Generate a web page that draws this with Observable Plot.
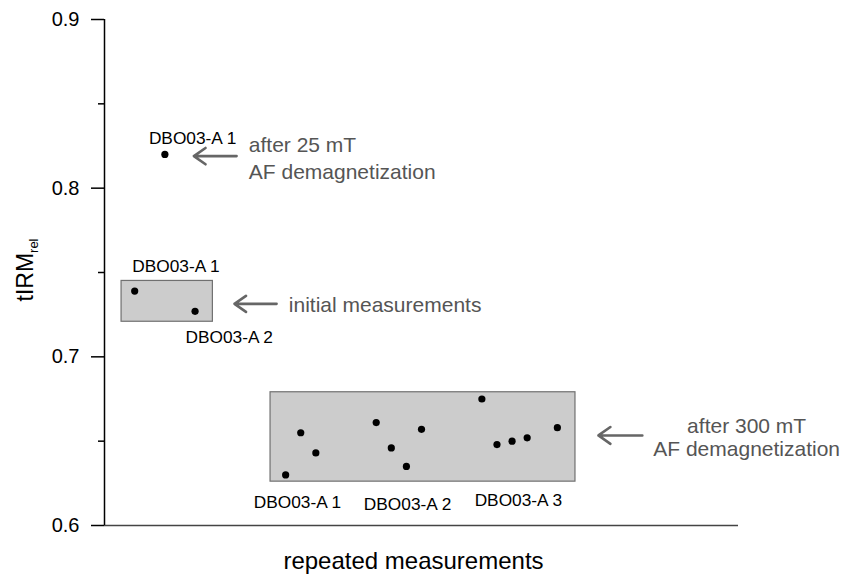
<!DOCTYPE html>
<html>
<head>
<meta charset="utf-8">
<script src="https://cdn.jsdelivr.net/npm/d3@7"></script>
<script src="https://cdn.jsdelivr.net/npm/@observablehq/plot@0.6"></script>
<style>
  html, body { margin: 0; padding: 0; background: #fff; }
</style>
</head>
<body>
<div id="chart"></div>
<script>
// ---- data ----
// measurement order (x, no ticks) and relative tIRM values
const initialIndex = [2, 6];
const initialValues = [0.739, 0.727];
const af25Index = [4];
const af25Values = [0.820];
const af300Index = [12, 13, 14, 18, 19, 20, 21, 25, 26, 27, 28, 30];
const af300Values = [0.630, 0.655, 0.643, 0.661, 0.646, 0.635, 0.657, 0.675, 0.648, 0.650, 0.652, 0.658];

const yTicks = [0.6, 0.7, 0.8, 0.9];
const yMinorTicks = [0.65, 0.75, 0.85];

// grouping boxes (data space)
const boxX1 = [1.13, 11.0];
const boxX2 = [7.18, 31.2];
const boxY1 = [0.7208, 0.626];
const boxY2 = [0.7450, 0.679];

// sample labels (data-space anchors)
const sampleLabelText = ["DBO03-A 1", "DBO03-A 1", "DBO03-A 2", "DBO03-A 1", "DBO03-A 2", "DBO03-A 3"];
const sampleLabelX = [2.94, 1.84, 5.37, 9.89, 17.18, 24.52];
const sampleLabelY = [0.8295, 0.7538, 0.7115, 0.6137, 0.6127, 0.6146];

// annotations
const noteText = ["after 25 mT", "AF demagnetization", "initial measurements"];
const noteX = [9.56, 9.56, 12.21];
const noteY = [0.8255, 0.8095, 0.7307];
const note300Text = ["after 300 mT", "AF demagnetization"];
const note300X = [42.54, 42.54];
const note300Y = [0.6591, 0.6453];

// arrows
const arrowX1 = [8.75, 11.40, 35.63];
const arrowX2 = [5.92, 8.61, 32.72];
const arrowY = [0.8190, 0.7314, 0.6534];

const xTitle = "repeated measurements";
const yTitleMain = "tIRM";
const yTitleSub = "rel";

// ---- build tables ----
const points = [
  ...initialIndex.map((x, i) => ({x, y: initialValues[i]})),
  ...af25Index.map((x, i) => ({x, y: af25Values[i]})),
  ...af300Index.map((x, i) => ({x, y: af300Values[i]}))
];
const boxes = boxX1.map((d, i) => ({x1: d, x2: boxX2[i], y1: boxY1[i], y2: boxY2[i]}));
const sampleLabels = sampleLabelText.map((t, i) => ({t, x: sampleLabelX[i], y: sampleLabelY[i]}));
const notes = noteText.map((t, i) => ({t, x: noteX[i], y: noteY[i]}));
const notes300 = note300Text.map((t, i) => ({t, x: note300X[i], y: note300Y[i]}));
const arrows = arrowX1.map((d, i) => ({x1: d, x2: arrowX2[i], y: arrowY[i]}));

const FONT = "'Liberation Sans', Arial, Helvetica, sans-serif";

function yTitleMark(index, scales, values, dimensions) {
  const g = d3.create("svg:g");
  const t = g.append("text")
    .attr("transform", `translate(33,270) rotate(-90)`)
    .attr("text-anchor", "middle")
    .attr("font-size", 23)
    .attr("fill", "#000");
  t.append("tspan").text(yTitleMain);
  t.append("tspan").attr("font-size", 13).attr("dy", 5).text(yTitleSub);
  return g.node();
}

const chart = Plot.plot({
  width: 843,
  height: 580,
  marginLeft: 104,
  marginRight: 105,
  marginTop: 19,
  marginBottom: 55,
  style: {fontFamily: FONT, background: "#fff", color: "#000"},
  x: {domain: [0, 42], axis: null},
  y: {domain: [0.6, 0.9], axis: null},
  marks: [
    Plot.rect(boxes, {x1: "x1", x2: "x2", y1: "y1", y2: "y2", fill: "#cccccc", stroke: "#707070", strokeWidth: 1.2}),
    Plot.ruleY([0.6], {stroke: "#444", strokeWidth: 1.6}),
    Plot.ruleX([0], {y1: 0.6, y2: 0.9, stroke: "#000", strokeWidth: 1.5}),
    Plot.axisY(yTicks, {tickSize: 13, tickPadding: 12, fontSize: 20, tickFormat: d3.format(".1f"), label: null, stroke: "#000", strokeWidth: 1.5, fill: "#000"}),
    Plot.axisY(yMinorTicks, {tickSize: 6, tickFormat: () => "", label: null, stroke: "#000", strokeWidth: 1.5}),
    Plot.dot(points, {x: "x", y: "y", r: 3.6, fill: "#000", stroke: null}),
    Plot.text(sampleLabels, {x: "x", y: "y", text: "t", textAnchor: "start", lineAnchor: "middle", fontSize: 17.3, fill: "#000"}),
    Plot.text(notes, {x: "x", y: "y", text: "t", textAnchor: "start", lineAnchor: "middle", fontSize: 21, fill: "#555"}),
    Plot.text(notes300, {x: "x", y: "y", text: "t", textAnchor: "middle", lineAnchor: "middle", fontSize: 21, fill: "#555"}),
    Plot.arrow(arrows, {x1: "x1", x2: "x2", y1: "y", y2: "y", stroke: "#666", strokeWidth: 2.6, headLength: 12, headAngle: 70}),
    Plot.text([xTitle], {frameAnchor: "bottom", dx: -8, dy: 36, lineAnchor: "middle", fontSize: 24, fill: "#000"}),
    yTitleMark
  ]
});

document.getElementById("chart").appendChild(chart);
</script>
</body>
</html>
